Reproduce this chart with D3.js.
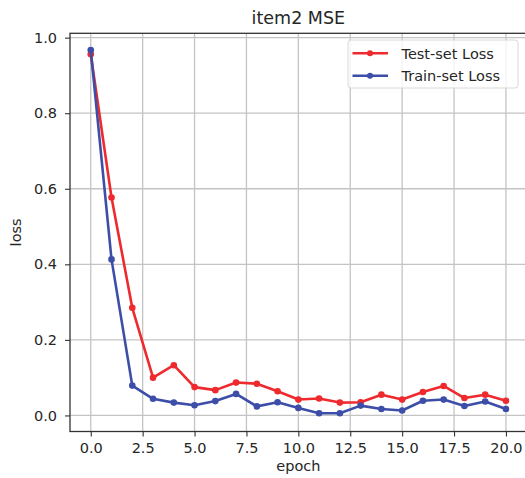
<!DOCTYPE html>
<html>
<head>
<meta charset="utf-8">
<script src="https://cdn.jsdelivr.net/npm/d3@7"></script>
<style>
  body { margin: 0; background: #fff; }
  text { font-family: "DejaVu Sans", sans-serif; fill: #262626; }
</style>
</head>
<body>
<svg id="chart" width="525" height="478"></svg>
<script>
var epochs = d3.range(0, 21);
var testLoss = [0.956, 0.577, 0.285, 0.100, 0.133, 0.075, 0.067, 0.087, 0.084, 0.064, 0.042,
  0.045, 0.034, 0.035, 0.055, 0.042, 0.062, 0.078, 0.046, 0.055, 0.039];
var trainLoss = [0.967, 0.413, 0.079, 0.044, 0.034, 0.027, 0.038, 0.057, 0.024, 0.035, 0.020,
  0.006, 0.006, 0.026, 0.017, 0.013, 0.039, 0.042, 0.025, 0.037, 0.017];
var xTicks = [0, 2.5, 5, 7.5, 10, 12.5, 15, 17.5, 20];
var yTicks = [0, 0.2, 0.4, 0.6, 0.8, 1.0];
var series = [
  {name: 'Test-set Loss', values: testLoss, color: '#ee2a2e'},
  {name: 'Train-set Loss', values: trainLoss, color: '#3d4ea8'}
];

var svg = d3.select('#chart');
var plotL = 70, plotR = 526.7, plotT = 33.3, plotB = 431.5;

var x = d3.scaleLinear().domain([-1, 21]).range([plotL, plotR]);
var y = d3.scaleLinear().domain([-0.0425, 1.0115]).range([plotB, plotT]);

// grid
svg.append('g').selectAll('line').data(xTicks).enter().append('line')
  .attr('x1', function(d){ return x(d); }).attr('x2', function(d){ return x(d); })
  .attr('y1', plotT).attr('y2', plotB)
  .attr('stroke', '#c4c4c4').attr('stroke-width', 1.3);
svg.append('g').selectAll('line').data(yTicks).enter().append('line')
  .attr('y1', function(d){ return y(d); }).attr('y2', function(d){ return y(d); })
  .attr('x1', plotL).attr('x2', plotR)
  .attr('stroke', '#c4c4c4').attr('stroke-width', 1.3);

// axes
var xAxis = svg.append('g').attr('transform', 'translate(0,' + plotB + ')')
  .call(d3.axisBottom(x).tickValues(xTicks).tickSize(5).tickPadding(6).tickFormat(d3.format('.1f')));
var yAxis = svg.append('g').attr('transform', 'translate(' + plotL + ',0)')
  .call(d3.axisLeft(y).tickValues(yTicks).tickSize(5).tickPadding(8).tickFormat(d3.format('.1f')));
[xAxis, yAxis].forEach(function(a){
  a.select('.domain').remove();
  a.selectAll('line').attr('stroke', '#333').attr('stroke-width', 1.1);
  a.selectAll('text').attr('font-size', 14.5).attr('fill', '#262626')
    .style('font-family', '"DejaVu Sans", sans-serif');
});

// spines
svg.append('rect').attr('x', plotL).attr('y', plotT)
  .attr('width', plotR - plotL).attr('height', plotB - plotT)
  .attr('fill', 'none').attr('stroke', '#333').attr('stroke-width', 1.3);

// lines
var line = d3.line().x(function(d, i){ return x(epochs[i]); }).y(function(d){ return y(d); });
series.forEach(function(s){
  svg.append('path').datum(s.values).attr('d', line)
    .attr('fill', 'none').attr('stroke', s.color).attr('stroke-width', 2.6)
    .attr('stroke-linejoin', 'round');
  svg.append('g').selectAll('circle').data(s.values).enter().append('circle')
    .attr('cx', function(d, i){ return x(epochs[i]); })
    .attr('cy', function(d){ return y(d); })
    .attr('r', 3.3).attr('fill', s.color);
});

// title and labels
svg.append('text').attr('x', (plotL + plotR) / 2).attr('y', 24)
  .attr('text-anchor', 'middle').attr('font-size', 17.5).text('item2 MSE');
svg.append('text').attr('x', (plotL + plotR) / 2).attr('y', 471)
  .attr('text-anchor', 'middle').attr('font-size', 14.5).text('epoch');
svg.append('text').attr('transform', 'translate(20.5,' + ((plotT + plotB) / 2) + ') rotate(-90)')
  .attr('text-anchor', 'middle').attr('font-size', 14.5).text('loss');

// legend
var lg = svg.append('g').attr('transform', 'translate(348,40)');
lg.append('rect').attr('width', 170).attr('height', 48).attr('rx', 3)
  .attr('fill', 'rgba(255,255,255,0.8)').attr('stroke', '#d8d8d8');
series.forEach(function(s, i){
  var yy = 13.3 + i * 22.4;
  lg.append('line').attr('x1', 4.5).attr('x2', 40).attr('y1', yy).attr('y2', yy)
    .attr('stroke', s.color).attr('stroke-width', 2.6);
  lg.append('circle').attr('cx', 22).attr('cy', yy).attr('r', 3).attr('fill', s.color);
  lg.append('text').attr('x', 53.5).attr('y', yy + 5.3).attr('font-size', 14.5).text(s.name);
});
</script>
</body>
</html>
